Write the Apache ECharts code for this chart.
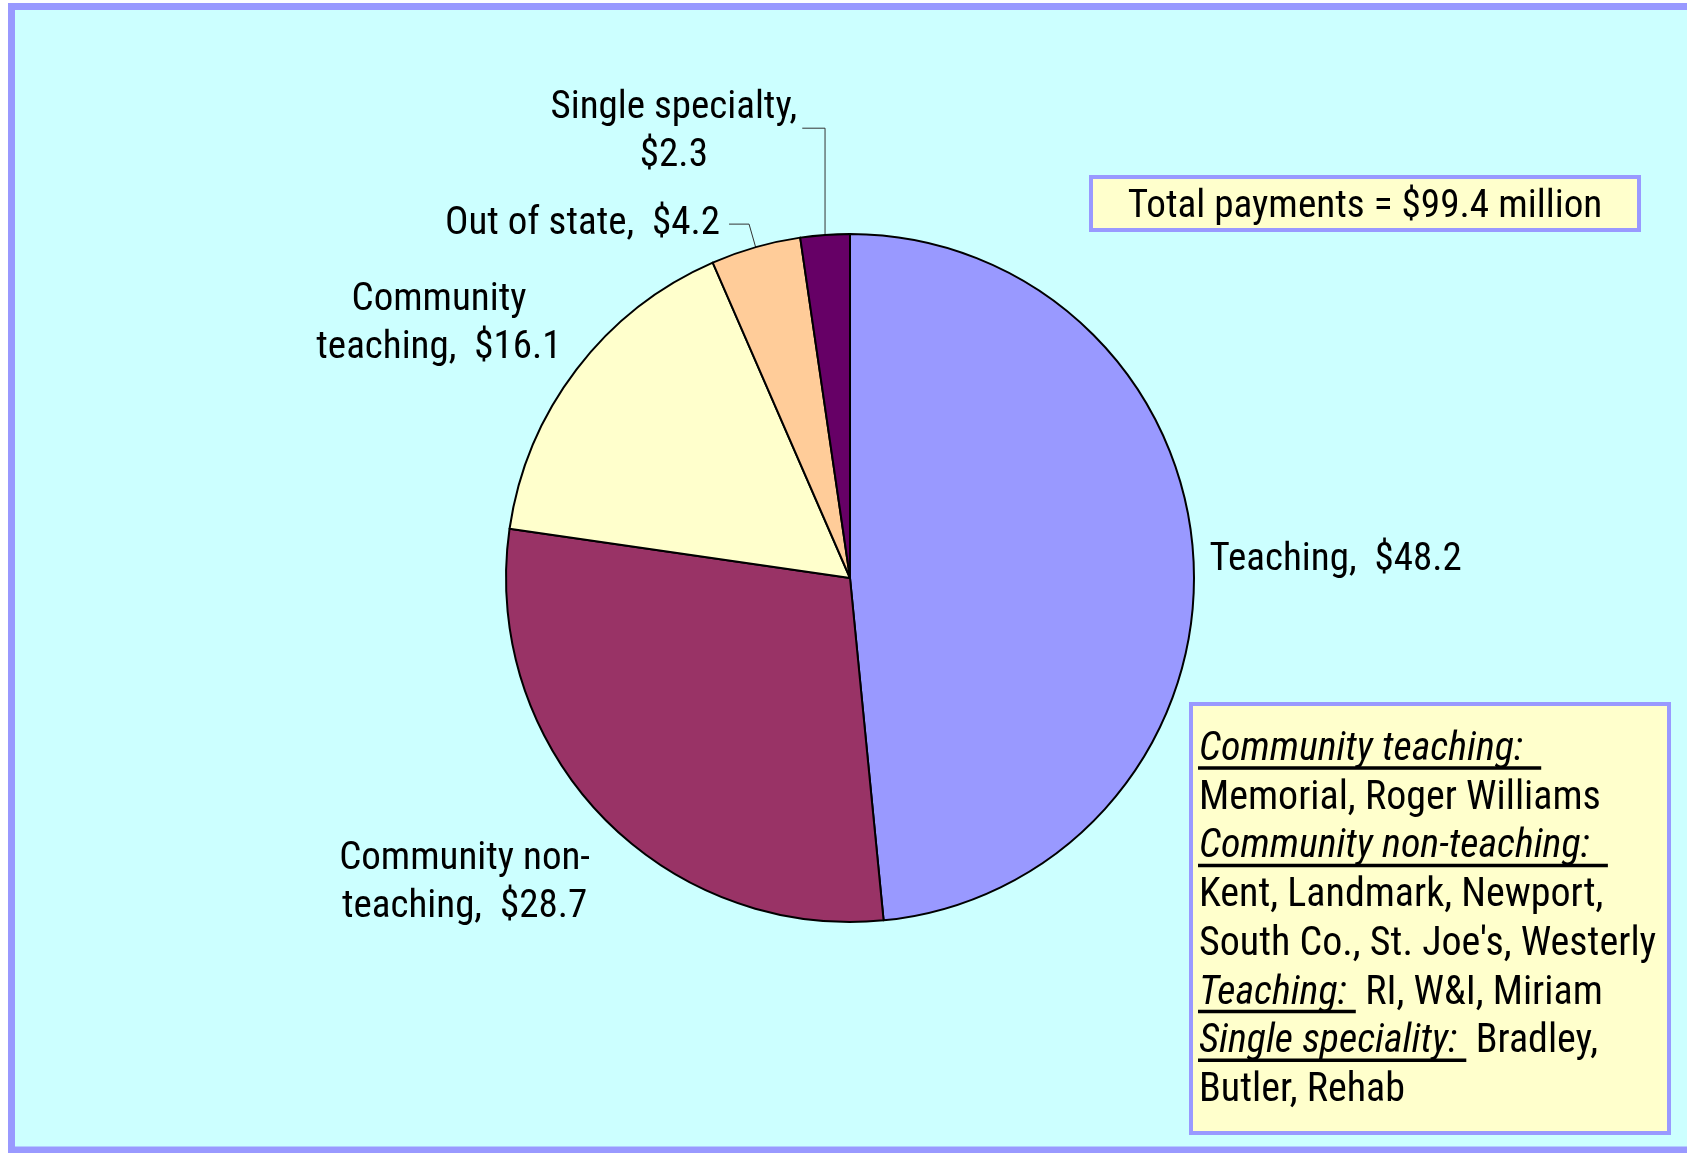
<!DOCTYPE html>
<html>
<head>
<meta charset="utf-8">
<title>Total payments by hospital type</title>
<script src="https://cdn.jsdelivr.net/npm/echarts@6/dist/echarts.min.js"></script>
<style>
  html, body { margin: 0; padding: 0; background: #fff; }
  #chart { width: 1687px; height: 1153px; }
</style>
</head>
<body>
<div id="chart"></div>
<script>
// data ($ million)
const categories = ['Teaching', 'Community non-teaching', 'Community teaching', 'Out of state', 'Single specialty'];
const values = [48.2, 28.7, 16.1, 4.2, 2.3];
const labelNames = ['Teaching,  ', 'Community non-\nteaching,  ', 'Community\nteaching,  ', 'Out of state,  ', 'Single specialty,\n'];
const totalText = 'Total payments = $99.4 million';
// [underlined heading, plain text]
const noteLines = [
  ['Community teaching: ', ''],
  ['', 'Memorial, Roger Williams'],
  ['Community non-teaching: ', ''],
  ['', 'Kent, Landmark, Newport,'],
  ['', "South Co., St. Joe's, Westerly"],
  ['Teaching:', '  RI, W&I, Miriam'],
  ['Single speciality:', '  Bradley,'],
  ['', 'Butler, Rehab']
];

// styling
const colors = ['#9999FF', '#993366', '#FFFFCC', '#FFCC99', '#660066'];
const showLine = [false, false, false, true, true];
const lineLen = [[6, 5], [10, 5], [10, 5], [24, 20], [107, 15]];
const labelShift = [[0, -1], [6, 61], [3, -39], [-4, 0], [0, 4]];
const FONT = "'Roboto Condensed', 'DejaVu Sans Condensed', sans-serif";
const LABEL_SIZE = 39;
const TOTAL_SIZE = 39.2;
const NOTE_SIZE = 40;

const measure = document.createElement('canvas').getContext('2d');
function textWidth(str, font) {
  measure.font = font;
  return measure.measureText(str).width;
}

const noteX = 1199;
const noteY0 = 750;
const noteStep = 48.7;
const noteGraphics = [];
noteLines.forEach(function (ln, i) {
  const y = noteY0 + i * noteStep;
  let rich = '';
  if (ln[0]) rich += '{h|' + ln[0] + '}';
  if (ln[1]) rich += '{n|' + ln[1] + '}';
  noteGraphics.push({
    type: 'text',
    x: noteX,
    y: y,
    style: {
      text: rich,
      textAlign: 'left',
      align: 'left',
      textVerticalAlign: 'middle',
      verticalAlign: 'middle',
      rich: {
        h: { font: 'italic ' + NOTE_SIZE + 'px ' + FONT, fill: '#000' },
        n: { font: NOTE_SIZE + 'px ' + FONT, fill: '#000' }
      }
    }
  });
  if (ln[0]) {
    // italic overhang: the underline runs a little past the measured width
    const w = textWidth(ln[0], 'italic ' + NOTE_SIZE + 'px ' + FONT) + 9;
    noteGraphics.push({
      type: 'line',
      shape: { x1: noteX - 1, y1: y + 18, x2: noteX + w, y2: y + 18 },
      style: { stroke: '#000', lineWidth: 3.5 }
    });
  }
});

const chart = echarts.init(document.getElementById('chart'));
chart.setOption({
  animation: false,
  graphic: [
    {
      type: 'rect',
      z: -1,
      shape: { x: 11.5, y: 6.5, width: 1700, height: 1143.5 },
      style: { fill: '#CCFFFF', stroke: '#9999FF', lineWidth: 7 }
    },
    {
      type: 'rect',
      shape: { x: 1091, y: 177, width: 548, height: 53 },
      style: { fill: '#FFFFCC', stroke: '#9999FF', lineWidth: 4 }
    },
    {
      type: 'text',
      x: 1365,
      y: 207,
      style: {
        text: totalText,
        font: TOTAL_SIZE + 'px ' + FONT,
        fill: '#000',
        textAlign: 'center',
        align: 'center',
        textVerticalAlign: 'middle',
        verticalAlign: 'middle'
      }
    },
    {
      type: 'rect',
      shape: { x: 1191, y: 704, width: 478, height: 429 },
      style: { fill: '#FFFFCC', stroke: '#9999FF', lineWidth: 4 }
    }
  ].concat(noteGraphics),
  series: [
    {
      type: 'pie',
      center: [850, 578],
      radius: 344,
      startAngle: 90,
      clockwise: true,
      avoidLabelOverlap: false,
      silent: true,
      emphasis: { disabled: true },
      itemStyle: { borderColor: '#000', borderWidth: 2 },
      label: {
        position: 'outside',
        color: '#000',
        fontFamily: FONT,
        fontSize: LABEL_SIZE,
        lineHeight: 48,
        formatter: function (p) {
          const txt = labelNames[p.dataIndex] + '$' + p.value.toFixed(1);
          return txt.split('\n').map(function (s) { return '{c|' + s + '}'; }).join('\n');
        },
        rich: {
          c: { align: 'center', fontFamily: FONT, fontSize: LABEL_SIZE, lineHeight: 48, color: '#000' }
        }
      },
      labelLine: { lineStyle: { color: '#333', width: 1 } },
      labelLayout: function (params) {
        const i = params.dataIndex;
        const out = { dx: labelShift[i][0], dy: labelShift[i][1] };
        if (i === 4 && params.labelLinePoints) {
          const pts = params.labelLinePoints.map(function (p) { return p.slice(); });
          pts[1][0] = pts[0][0];
          out.labelLinePoints = pts;
        }
        return out;
      },
      data: categories.map(function (name, i) {
        return {
          name: name,
          value: values[i],
          itemStyle: { color: colors[i] },
          labelLine: { show: showLine[i], length: lineLen[i][0], length2: lineLen[i][1] }
        };
      })
    }
  ]
});
</script>
</body>
</html>
